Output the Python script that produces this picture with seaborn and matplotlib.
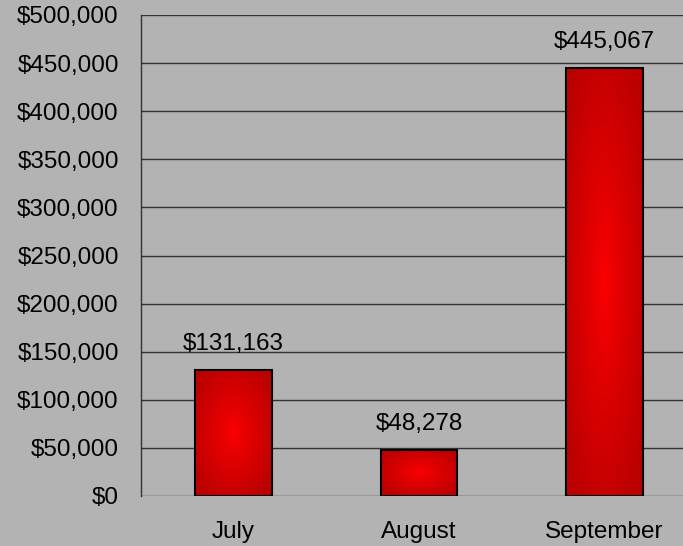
import numpy as np
import pandas as pd
import seaborn as sns
import matplotlib.pyplot as plt
from matplotlib.ticker import FuncFormatter, FixedLocator

# chart data
months = ['July', 'August', 'September']
sales = [131163, 48278, 445067]

df = pd.DataFrame({'Month': months, 'Sales': sales})

sns.set_style('white')
plt.rcParams['font.family'] = ['Liberation Sans', 'DejaVu Sans']
plt.rcParams['text.color'] = 'black'
plt.rcParams['xtick.color'] = 'black'
plt.rcParams['ytick.color'] = 'black'

bg = '#b3b3b3'
fig = plt.figure(figsize=(6.83, 5.46), dpi=100, facecolor=bg)
ax = fig.add_axes([141 / 683, 1 - 496 / 546, 556 / 683, 481 / 546])
ax.set_facecolor(bg)

sns.barplot(data=df, x='Month', y='Sales', color='red', width=0.415,
            edgecolor='black', linewidth=1.5, ax=ax)

# radial red gradient inside each bar
u = np.linspace(-1, 1, 200)
U, V = np.meshgrid(u, u)
d = np.clip(np.sqrt(U ** 2 + V ** 2) / 1.2, 0, 1)
center = np.array([1.0, 0.0, 0.0])
edge = np.array([0.74, 0.0, 0.0])
grad = center + (edge - center) * d[..., None] ** 0.8

for p in ax.patches:
    x, y = p.get_x(), p.get_y()
    w, h = p.get_width(), p.get_height()
    p.set_facecolor('none')
    im = ax.imshow(grad, extent=[x, x + w, y, y + h], aspect='auto',
                   zorder=p.get_zorder() - 0.1, interpolation='bilinear')
    im.set_clip_path(p)
    ax.annotate('${:,.0f}'.format(h), (x + w / 2, h), xytext=(0, 10.5),
                textcoords='offset points', ha='center', va='bottom',
                fontsize=17.5, color='black')

ax.set_xlim(-0.5, 2.5)
ax.set_ylim(0, 500000)
ax.set_yticks(np.arange(0, 500001, 50000))
ax.yaxis.set_major_formatter(FuncFormatter(lambda v, pos: '${:,.0f}'.format(v)))
ax.grid(axis='y', color='#333333', linewidth=1)
ax.set_axisbelow(True)

for side in ['top', 'right', 'bottom']:
    ax.spines[side].set_visible(False)
ax.spines['left'].set_color('#333333')
ax.spines['left'].set_linewidth(1)

ax.tick_params(axis='y', length=6, width=1, color='#333333', labelsize=17.5, pad=10)
ax.tick_params(axis='x', which='major', length=0, labelsize=17.5, pad=18)
ax.xaxis.set_minor_locator(FixedLocator([0.5, 1.5]))
ax.tick_params(axis='x', which='minor', length=6, width=1, color='#333333')

ax.set_xlabel('')
ax.set_ylabel('')

plt.savefig('out.png', dpi=100, facecolor=bg)
